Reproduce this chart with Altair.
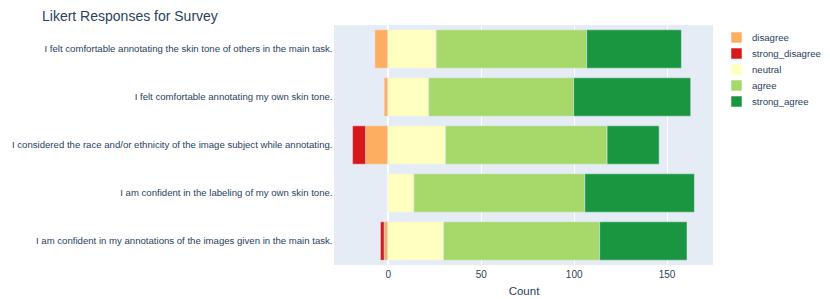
import altair as alt
import pandas as pd

questions = [
    "I felt comfortable annotating the skin tone of others in the main task.",
    "I felt comfortable annotating my own skin tone.",
    "I considered the race and/or ethnicity of the image subject while annotating.",
    "I am confident in the labeling of my own skin tone.",
    "I am confident in my annotations of the images given in the main task.",
]
levels = ["disagree", "strong_disagree", "neutral", "agree", "strong_agree"]
colors = ["#FDAE61", "#D7191C", "#FFFFBF", "#A6D96A", "#1A9641"]

strong_disagree = [0, 0, 7, 0, 2]
disagree = [7, 2, 12, 0, 2]
neutral = [26, 22, 31, 14, 30]
agree = [81, 78, 87, 92, 84]
strong_agree = [51, 63, 28, 59, 47]

rows = []
for i, q in enumerate(questions):
    # negative side: disagree next to zero, strong_disagree further out
    left = 0
    for lvl, vals in (("disagree", disagree), ("strong_disagree", strong_disagree)):
        v = vals[i]
        rows.append({"question": q, "level": lvl, "x": left, "x2": left - v, "count": v})
        left -= v
    right = 0
    for lvl, vals in (("neutral", neutral), ("agree", agree), ("strong_agree", strong_agree)):
        v = vals[i]
        rows.append({"question": q, "level": lvl, "x": right, "x2": right + v, "count": v})
        right += v
df = pd.DataFrame(rows)
df = df[df["count"] > 0]

font = "Liberation Sans"
text_color = "#2a3f5f"

x_scale = alt.Scale(domain=[-29, 175], nice=False, zero=False)

bars = alt.Chart(df).mark_bar(stroke="#E5ECF6", strokeWidth=0.5).encode(
    y=alt.Y("question:N", sort=questions,
            scale=alt.Scale(paddingInner=0.2, paddingOuter=0.1),
            axis=alt.Axis(title=None, domain=False, ticks=False, grid=False,
                          labelLimit=0, labelPadding=2, labelFontSize=9.6,
                          labelColor=text_color, labelFont=font)),
    x=alt.X("x:Q", scale=x_scale,
            axis=alt.Axis(title="Count", values=[0, 50, 100, 150], domain=False, ticks=False,
                          grid=True, gridColor="white", gridWidth=1,
                          labelFontSize=10, labelColor=text_color, labelFont=font,
                          labelPadding=4, titleFontSize=11.5, titleColor=text_color,
                          titleFont=font, titleFontWeight="normal", titlePadding=6)),
    x2="x2:Q",
    color=alt.Color("level:N", scale=alt.Scale(domain=levels, range=colors),
                    legend=alt.Legend(title=None, orient="none", legendX=397, legendY=7,
                                      symbolType="square", symbolSize=110,
                                      symbolStrokeWidth=0, labelFontSize=9.6,
                                      labelColor=text_color, labelFont=font,
                                      rowPadding=5, labelOffset=10)),
)

zero = alt.Chart(pd.DataFrame({"z": [0]})).mark_rule(color="white", strokeWidth=2).encode(
    x=alt.X("z:Q", scale=x_scale)
)

chart = alt.layer(zero, bars).properties(
    width=379,
    height=240,
    title=alt.TitleParams("Likert Responses for Survey", anchor="start", frame="group",
                          dx=-292, offset=0, fontSize=14, font=font, fontWeight="normal",
                          color=text_color),
    autosize=alt.AutoSizeParams(type="none"),
    padding={"left": 326, "top": 17, "right": 108, "bottom": 34},
).configure_view(fill="#E5ECF6", stroke=None)

chart.save("out.html", embed_options={"renderer": "svg", "actions": False})
